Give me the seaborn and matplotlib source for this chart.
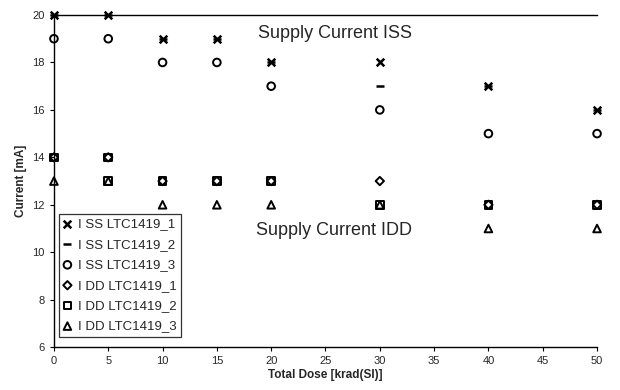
import matplotlib
matplotlib.use("Agg")
import matplotlib.pyplot as plt
import seaborn as sns
import pandas as pd

dose = [0, 5, 10, 15, 20, 30, 40, 50]
iss_1 = [20, 20, 19, 19, 18, 18, 17, 16]
iss_2 = [20, 20, 19, 19, 18, 17, 17, 16]
iss_3 = [19, 19, 18, 18, 17, 16, 15, 15]
idd_1 = [14, 14, 13, 13, 13, 13, 12, 12]
idd_2 = [14, 14, 13, 13, 13, 12, 12, 12]
idd_3 = [13, 13, 12, 12, 12, 12, 11, 11]
extra_idd_dose = [5]
extra_idd_vals = [13]
series_names = ["I SS LTC1419_1", "I SS LTC1419_2", "I SS LTC1419_3",
                "I DD LTC1419_1", "I DD LTC1419_2", "I DD LTC1419_3"]
series_values = [iss_1, iss_2, iss_3, idd_1, idd_2, idd_3]
x_ticks = [0, 5, 10, 15, 20, 25, 30, 35, 40, 45, 50]
y_ticks = [6, 8, 10, 12, 14, 16, 18, 20]

sns.set_style("ticks")
plt.rcParams['font.family'] = ['Liberation Sans', 'DejaVu Sans']

fig = plt.figure(figsize=(6.2, 3.9), dpi=100)
ax = fig.add_axes([0.087, 0.110, 0.876, 0.8515])

markers = ['x', '_', 'o', 'D', 's', '^']
sizes = [30, 30, 30, 18, 30, 30]
for name, vals, m, s in zip(series_names, series_values, markers, sizes):
    df = pd.DataFrame({"dose": dose, "current": vals})
    if m in ('x', '_'):
        sns.scatterplot(data=df, x="dose", y="current", marker=m, s=s,
                        color="black", linewidth=1.8, label=name, ax=ax,
                        clip_on=False, zorder=3)
    else:
        sns.scatterplot(data=df, x="dose", y="current", marker=m, s=s,
                        facecolor="none", edgecolor="black", linewidth=1.4,
                        label=name, ax=ax, clip_on=False, zorder=3)

# overlapping square visible at 5 krad / 13 mA in the original
sns.scatterplot(x=extra_idd_dose, y=extra_idd_vals, marker='s', s=30,
                facecolor="none", edgecolor="black", linewidth=1.4,
                ax=ax, zorder=4, legend=False)

ax.set_xlim(0, 50)
ax.set_ylim(6, 20)
ax.set_xticks(x_ticks)
ax.set_yticks(y_ticks)
ax.tick_params(axis='both', labelsize=8, length=3, width=0.8, color='black')
ax.set_xlabel("Total Dose [krad(SI)]", fontsize=8.5, fontweight='bold', labelpad=2)
ax.set_ylabel("Current [mA]", fontsize=8.5, fontweight='bold', labelpad=4)

for side in ['left', 'bottom', 'top']:
    ax.spines[side].set_visible(True)
    ax.spines[side].set_color('black')
    ax.spines[side].set_linewidth(1.0)
ax.spines['right'].set_visible(False)

ax.text(18.8, 19.2, "Supply Current ISS", fontsize=13, va='center', ha='left')
ax.text(18.6, 10.9, "Supply Current IDD", fontsize=13, va='center', ha='left')

leg = ax.legend(loc='upper left', bbox_to_anchor=(0.009, 0.402), fontsize=9.5,
                frameon=True, fancybox=False, edgecolor='black',
                handlelength=0.6, handletextpad=0.5, borderpad=0.35,
                labelspacing=0.62, borderaxespad=0.0)
leg.get_frame().set_linewidth(0.9)

fig.savefig("out.png", dpi=100)
